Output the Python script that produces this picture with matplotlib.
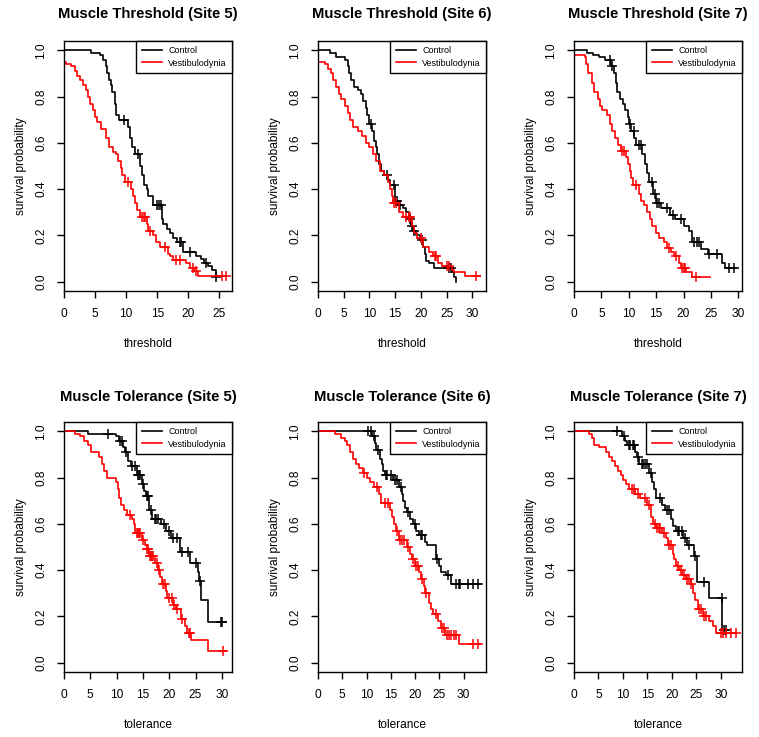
import numpy as np
import matplotlib
matplotlib.use("Agg")
import matplotlib.pyplot as plt

plt.rcParams['font.family'] = ['Liberation Sans', 'DejaVu Sans']

# ---------------- data ----------------
titles = ["Muscle Threshold (Site 5)", "Muscle Threshold (Site 6)", "Muscle Threshold (Site 7)",
          "Muscle Tolerance (Site 5)", "Muscle Tolerance (Site 6)", "Muscle Tolerance (Site 7)"]
xlabels = ["threshold", "threshold", "threshold", "tolerance", "tolerance", "tolerance"]
group_labels = ["Control", "Vestibulodynia"]

# Threshold site 5
th5_ctrl_t = [0, 4.4, 5.8, 6.3, 6.7, 7.0, 7.2, 7.5, 7.8, 8.2, 8.4, 8.9, 10.3, 10.6, 11.0, 11.4, 12.2, 12.6, 12.9,
              13.3, 13.5, 14.3, 15.8, 15.9, 16.5, 17.0, 17.5, 18.2, 19.1, 21.3, 22.1, 22.6, 23.1, 23.9, 24.5]
th5_ctrl_s = [1.0, 0.99, 0.98, 0.96, 0.93, 0.90, 0.87, 0.85, 0.82, 0.77, 0.72, 0.70, 0.67, 0.62, 0.58, 0.55, 0.50,
              0.46, 0.42, 0.40, 0.37, 0.33, 0.27, 0.25, 0.23, 0.21, 0.19, 0.17, 0.13, 0.11, 0.10, 0.08, 0.07, 0.05, 0.02]
th5_ctrl_c = [9.6, 11.9, 15.0, 15.3, 15.6, 18.6, 18.8, 20.2, 22.9, 24.5]
th5_ctrl_end = 24.5
th5_vest_t = [0, 0, 0.4, 1.2, 1.8, 2.1, 2.6, 3.1, 3.5, 3.9, 4.2, 4.6, 5.0, 5.3, 6.0, 6.8, 7.3, 7.9, 8.4, 8.7, 9.1,
              9.4, 9.8, 10.8, 11.1, 11.4, 11.8, 12.2, 13.3, 13.6, 14.3, 14.8, 15.5, 16.7, 17.1, 17.5, 19.7, 20.2,
              21.0, 21.6]
th5_vest_s = [1.0, 0.95, 0.94, 0.93, 0.91, 0.89, 0.87, 0.85, 0.83, 0.80, 0.77, 0.74, 0.71, 0.69, 0.66, 0.62, 0.58,
              0.56, 0.55, 0.52, 0.49, 0.46, 0.43, 0.40, 0.37, 0.34, 0.31, 0.28, 0.25, 0.22, 0.20, 0.17, 0.15, 0.12,
              0.11, 0.095, 0.08, 0.06, 0.045, 0.025]
th5_vest_c = [10.3, 12.6, 12.9, 13.1, 13.8, 16.2, 18.0, 18.6, 20.7, 21.3, 25.5, 26.0]
th5_vest_end = 26.0

# Threshold site 6
th6_ctrl_t = [0, 2.3, 3.5, 5.3, 5.8, 6.1, 6.5, 7.0, 7.8, 8.4, 8.8, 9.3, 9.6, 10.0, 10.5, 10.8, 11.2, 11.5, 11.8,
              12.2, 12.8, 13.6, 14.0, 15.0, 15.6, 16.5, 17.2, 17.6, 18.0, 18.5, 19.0, 19.8, 20.5, 20.8, 21.0, 21.5,
              22.5, 26.0, 26.5, 26.8]
th6_ctrl_s = [1.0, 0.99, 0.97, 0.96, 0.93, 0.90, 0.87, 0.84, 0.83, 0.81, 0.78, 0.75, 0.72, 0.68, 0.65, 0.61, 0.58,
              0.55, 0.51, 0.48, 0.46, 0.44, 0.42, 0.35, 0.33, 0.32, 0.30, 0.27, 0.24, 0.22, 0.20, 0.18, 0.15, 0.12,
              0.09, 0.08, 0.06, 0.04, 0.02, 0.0]
th6_ctrl_c = [10.3, 13.4, 14.7, 15.3, 16.0, 17.8, 18.2, 18.6, 20.2, 25.5, 25.8]
th6_ctrl_end = 26.8
th6_vest_t = [0, 0, 1.3, 2.0, 2.6, 3.0, 3.5, 4.0, 4.5, 5.3, 5.8, 6.3, 6.8, 7.8, 8.6, 9.3, 10.0, 10.6, 11.3, 12.0,
              12.9, 13.6, 14.0, 14.3, 14.6, 15.7, 16.5, 18.2, 18.7, 19.3, 20.5, 21.5, 22.3, 23.4, 24.2, 26.0, 26.4,
              28.5]
th6_vest_s = [1.0, 0.95, 0.94, 0.92, 0.90, 0.87, 0.84, 0.81, 0.79, 0.76, 0.73, 0.70, 0.67, 0.65, 0.63, 0.60, 0.58,
              0.55, 0.52, 0.48, 0.46, 0.43, 0.40, 0.37, 0.34, 0.30, 0.28, 0.24, 0.21, 0.19, 0.15, 0.13, 0.11, 0.08,
              0.07, 0.05, 0.04, 0.025]
th6_vest_c = [14.8, 15.2, 17.2, 17.6, 17.9, 20.0, 22.7, 23.0, 25.0, 25.5, 30.8]
th6_vest_end = 31.4

# Threshold site 7
th7_ctrl_t = [0, 2.4, 3.4, 4.6, 5.6, 6.7, 7.3, 7.6, 7.8, 8.4, 8.9, 9.4, 9.8, 10.0, 10.5, 11.0, 11.3, 12.5, 12.9,
              13.3, 13.7, 14.5, 15.0, 15.8, 17.6, 18.5, 20.0, 21.0, 21.5, 23.2, 24.5, 27.0, 27.5]
th7_ctrl_s = [1.0, 0.99, 0.98, 0.97, 0.96, 0.93, 0.90, 0.86, 0.82, 0.79, 0.77, 0.74, 0.71, 0.68, 0.65, 0.62, 0.59,
              0.55, 0.51, 0.47, 0.43, 0.38, 0.34, 0.32, 0.29, 0.27, 0.24, 0.22, 0.17, 0.14, 0.12, 0.08, 0.06]
th7_ctrl_c = [6.5, 7.0, 10.2, 10.9, 11.8, 12.2, 14.3, 14.8, 15.2, 15.5, 17.0, 18.0, 19.5, 22.0, 22.5, 22.8, 24.7,
              26.2, 28.3, 29.2]
th7_ctrl_end = 29.5
th7_vest_t = [0, 0, 2.0, 2.2, 2.6, 3.2, 3.7, 4.4, 4.8, 5.2, 6.0, 6.6, 7.0, 7.5, 8.0, 8.5, 9.5, 9.8, 10.2, 10.5,
              10.8, 11.8, 12.3, 12.8, 13.3, 13.8, 14.3, 15.0, 15.6, 16.5, 17.0, 17.8, 18.2, 19.2, 19.6, 20.5, 21.5]
th7_vest_s = [1.0, 0.98, 0.97, 0.94, 0.90, 0.86, 0.82, 0.79, 0.76, 0.74, 0.72, 0.68, 0.65, 0.62, 0.59, 0.565,
              0.54, 0.51, 0.48, 0.45, 0.42, 0.38, 0.35, 0.33, 0.30, 0.27, 0.24, 0.21, 0.19, 0.17, 0.145, 0.13, 0.11,
              0.08, 0.06, 0.04, 0.02]
th7_vest_c = [8.7, 9.2, 11.4, 17.4, 18.6, 19.7, 20.0, 20.2, 22.2]
th7_vest_end = 24.8

# Tolerance site 5
to5_ctrl_t = [0, 4.5, 9.8, 10.5, 11.2, 11.5, 12.2, 12.8, 13.8, 14.8, 15.2, 15.5, 16.2, 16.8, 18.5, 19.3, 20.3,
              22.0, 24.0, 25.4, 25.6, 26.1, 27.4]
to5_ctrl_s = [1.0, 0.99, 0.98, 0.96, 0.93, 0.91, 0.87, 0.85, 0.81, 0.77, 0.74, 0.72, 0.66, 0.62, 0.60, 0.57, 0.54,
              0.48, 0.43, 0.39, 0.355, 0.27, 0.175]
to5_ctrl_c = [8.3, 10.7, 11.0, 11.8, 13.0, 13.5, 14.0, 14.3, 14.5, 15.0, 15.8, 16.0, 16.5, 17.2, 17.5, 17.8, 19.0,
              20.0, 20.8, 21.5, 22.5, 23.5, 25.0, 25.9, 29.8, 30.0]
to5_ctrl_end = 30.7
to5_vest_t = [0, 2.0, 3.0, 3.8, 4.6, 5.2, 6.6, 7.2, 7.6, 8.2, 9.8, 10.2, 10.5, 10.8, 11.4, 12.0, 12.9, 13.3, 13.5,
              14.8, 15.3, 15.7, 16.2, 17.3, 17.8, 18.3, 18.6, 19.3, 19.6, 20.8, 21.3, 22.2, 23.0, 23.3, 24.2, 27.3]
to5_vest_s = [1.0, 0.99, 0.98, 0.96, 0.94, 0.91, 0.89, 0.86, 0.83, 0.80, 0.78, 0.75, 0.71, 0.68, 0.66, 0.64, 0.62,
              0.60, 0.56, 0.53, 0.51, 0.49, 0.46, 0.43, 0.40, 0.37, 0.34, 0.31, 0.28, 0.25, 0.23, 0.19, 0.16, 0.13,
              0.10, 0.05]
to5_vest_c = [12.5, 13.8, 14.0, 14.3, 14.5, 15.0, 15.8, 16.0, 16.3, 16.5, 16.8, 17.0, 17.6, 18.0, 18.8, 19.2, 20.0,
              20.5, 21.0, 21.5, 22.5, 23.7, 24.0, 30.3]
to5_vest_end = 30.7

# Tolerance site 6
to6_ctrl_t = [0, 11.2, 11.7, 12.0, 12.8, 13.2, 13.5, 13.8, 15.5, 16.8, 17.3, 17.6, 18.0, 18.3, 19.0, 19.5, 20.3,
              20.8, 22.0, 22.5, 24.3, 25.0, 25.3, 26.3, 27.5]
to6_ctrl_s = [1.0, 0.98, 0.95, 0.92, 0.88, 0.86, 0.83, 0.81, 0.79, 0.76, 0.73, 0.70, 0.67, 0.65, 0.62, 0.60, 0.57,
              0.55, 0.52, 0.51, 0.45, 0.42, 0.39, 0.38, 0.34]
to6_ctrl_c = [10.3, 11.0, 11.5, 12.3, 14.0, 14.3, 15.0, 15.8, 16.3, 17.2, 18.5, 20.0, 21.2, 21.5, 24.5, 26.8, 28.5,
              29.0, 29.2, 31.0, 32.0, 33.0]
to6_ctrl_end = 33.3
to6_vest_t = [0, 3.6, 4.8, 5.5, 6.0, 6.5, 7.2, 7.8, 8.5, 9.2, 10.2, 10.8, 11.5, 12.5, 13.0, 14.8, 15.2, 15.6, 16.0,
              16.8, 18.3, 19.0, 19.3, 20.0, 20.8, 21.2, 21.8, 22.1, 22.8, 23.3, 23.8, 24.8, 25.3, 26.2, 29.0]
to6_vest_s = [1.0, 0.99, 0.97, 0.96, 0.94, 0.91, 0.88, 0.86, 0.84, 0.82, 0.80, 0.78, 0.76, 0.73, 0.69, 0.66, 0.63,
              0.60, 0.57, 0.53, 0.50, 0.47, 0.45, 0.42, 0.39, 0.36, 0.33, 0.30, 0.26, 0.23, 0.21, 0.18, 0.15, 0.12,
              0.08]
to6_vest_c = [9.5, 12.2, 13.8, 14.5, 16.3, 17.0, 17.3, 17.8, 18.6, 19.5, 20.3, 20.6, 21.4, 22.3, 24.3, 25.6, 26.0,
              26.5, 27.0, 27.5, 28.0, 28.5, 32.0, 33.0]
to6_vest_end = 33.3

# Tolerance site 7
to7_ctrl_t = [0, 9.8, 10.5, 10.8, 12.5, 12.8, 13.2, 15.3, 16.0, 16.4, 16.8, 18.0, 18.6, 19.8, 20.3, 20.8, 22.3,
              23.0, 24.6, 25.2, 27.5, 30.3]
to7_ctrl_s = [1.0, 0.98, 0.96, 0.94, 0.91, 0.89, 0.86, 0.82, 0.78, 0.75, 0.71, 0.68, 0.66, 0.62, 0.59, 0.57, 0.54,
              0.51, 0.46, 0.35, 0.28, 0.14]
to7_ctrl_c = [8.8, 10.2, 11.2, 11.5, 12.0, 12.3, 13.0, 13.8, 14.0, 14.5, 15.0, 15.7, 17.5, 19.0, 19.5, 21.2, 21.5,
              22.0, 22.6, 23.5, 24.8, 26.5, 30.2, 30.6, 31.0]
to7_ctrl_end = 31.0
to7_vest_t = [0, 3.0, 3.7, 4.0, 5.2, 6.5, 7.2, 7.8, 8.3, 9.0, 9.6, 10.1, 10.6, 11.3, 12.5, 13.5, 15.0, 15.7, 16.2,
              16.8, 18.0, 18.8, 19.3, 20.2, 20.5, 20.9, 21.5, 22.0, 22.8, 23.8, 24.3, 24.8, 25.3, 26.3, 27.5, 28.3,
              29.0]
to7_vest_s = [1.0, 0.99, 0.97, 0.94, 0.93, 0.91, 0.89, 0.87, 0.85, 0.83, 0.81, 0.79, 0.77, 0.75, 0.73, 0.71, 0.68,
              0.63, 0.60, 0.58, 0.56, 0.54, 0.51, 0.47, 0.45, 0.42, 0.40, 0.38, 0.36, 0.34, 0.30, 0.27, 0.23, 0.20,
              0.18, 0.16, 0.13]
to7_vest_c = [11.8, 12.3, 13.0, 14.5, 15.3, 16.5, 17.0, 17.3, 17.6, 18.3, 19.5, 19.8, 21.2, 21.8, 22.5, 23.0,
              23.5, 24.0, 25.5, 26.0, 26.5, 27.0, 30.0, 30.5, 31.0, 32.0, 33.0]
to7_vest_end = 33.0

panels = [
    ((th5_ctrl_t, th5_ctrl_s, th5_ctrl_c, th5_ctrl_end), (th5_vest_t, th5_vest_s, th5_vest_c, th5_vest_end)),
    ((th6_ctrl_t, th6_ctrl_s, th6_ctrl_c, th6_ctrl_end), (th6_vest_t, th6_vest_s, th6_vest_c, th6_vest_end)),
    ((th7_ctrl_t, th7_ctrl_s, th7_ctrl_c, th7_ctrl_end), (th7_vest_t, th7_vest_s, th7_vest_c, th7_vest_end)),
    ((to5_ctrl_t, to5_ctrl_s, to5_ctrl_c, to5_ctrl_end), (to5_vest_t, to5_vest_s, to5_vest_c, to5_vest_end)),
    ((to6_ctrl_t, to6_ctrl_s, to6_ctrl_c, to6_ctrl_end), (to6_vest_t, to6_vest_s, to6_vest_c, to6_vest_end)),
    ((to7_ctrl_t, to7_ctrl_s, to7_ctrl_c, to7_ctrl_end), (to7_vest_t, to7_vest_s, to7_vest_c, to7_vest_end)),
]
colors = ["black", "#ff0000"]

# ---------------- figure ----------------
W, H = 759, 737
fig = plt.figure(figsize=(W / 100, H / 100), dpi=100)
lefts = [64, 318, 574]
tops = [41, 422]
aw, ah = 168, 250

for i, (curves) in enumerate(panels):
    r, c = divmod(i, 3)
    ax = fig.add_axes([lefts[c] / W, 1 - (tops[r] + ah) / H, aw / W, ah / H])
    xmax = 0
    handles = []
    for (t, s, cens, end), col, lab in zip(curves, colors, group_labels):
        t = np.asarray(t, float)
        s = np.asarray(s, float)
        xs = np.append(t, end)
        ys = np.append(s, s[-1])
        h, = ax.step(xs, ys, where='post', color=col, lw=1.2, label=lab)
        handles.append(h)
        cens = np.asarray(cens, float)
        idx = np.searchsorted(t, cens, side='right') - 1
        ax.plot(cens, s[idx], linestyle='none', marker='+', color=col, markersize=7, mew=1.1)
        xmax = max(xmax, end, cens.max())
    xhi = xmax * 1.04
    ax.set_xlim(0, xhi)
    ax.set_ylim(-0.04, 1.04)
    ax.set_xticks(np.arange(0, xhi, 5))
    ax.set_yticks([0.0, 0.2, 0.4, 0.6, 0.8, 1.0])
    ax.set_yticklabels(["0.0", "0.2", "0.4", "0.6", "0.8", "1.0"], rotation=90, va='center')
    ax.tick_params(direction='out', length=5, width=1, labelsize=8.6, pad=7)
    for sp in ax.spines.values():
        sp.set_linewidth(1)
    ax.set_title(titles[i], fontsize=10.7, fontweight='bold', pad=16.5 if r == 0 else 15)
    ax.set_xlabel(xlabels[i], fontsize=8.6, labelpad=13.5)
    ax.set_ylabel("survival probability", fontsize=8.6, labelpad=6)
    leg = ax.legend(handles=handles, loc='upper right', borderaxespad=0, fontsize=6.5, frameon=True,
                    fancybox=False, edgecolor='black', framealpha=1, handlelength=2.2, handletextpad=0.7,
                    borderpad=0.6, labelspacing=0.35)
    leg.get_frame().set_linewidth(1)

fig.savefig("out.png", dpi=100)
